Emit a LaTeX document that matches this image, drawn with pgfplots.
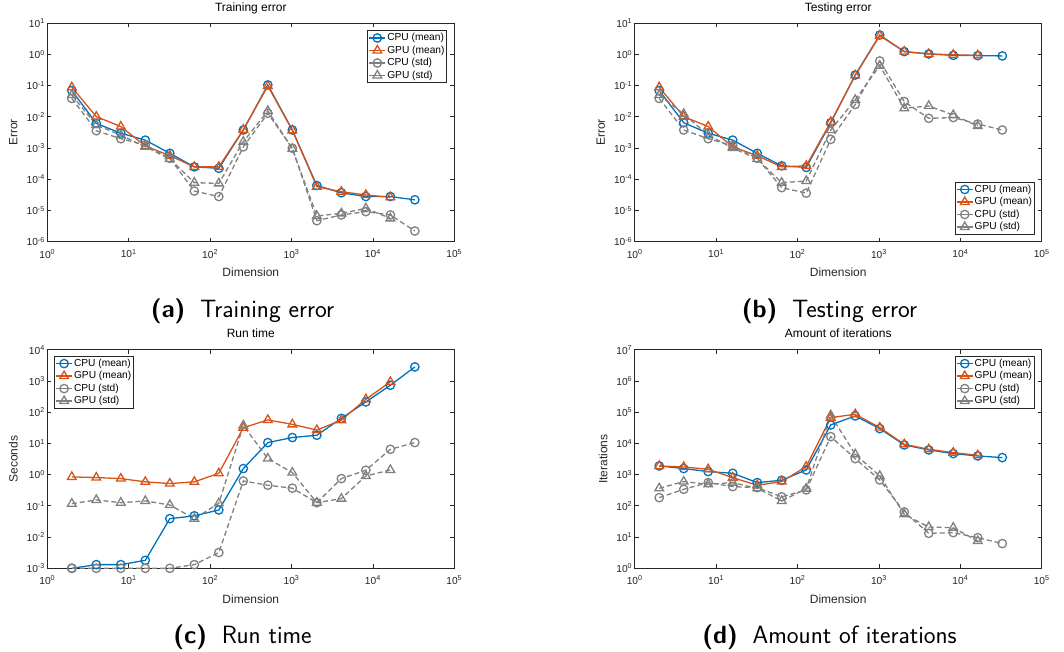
\documentclass[border=0pt]{standalone}
\usepackage{fontspec}
\setmainfont{Liberation Sans}
\usepackage{pgfplots}
\usepackage{pgfplotstable}
\pgfplotsset{compat=1.18}
\definecolor{mblue}{rgb}{0,0.447,0.741}
\definecolor{morange}{rgb}{0.85,0.325,0.098}
\definecolor{mgray}{rgb}{0.5,0.5,0.5}
\definecolor{maxis}{rgb}{0.15,0.15,0.15}

\pgfplotstableread{
x cm gm cs gs
2 0.07 0.089 0.039 0.05
4 0.0062 0.0102 0.0036 0.0055
8 0.003 0.0049 0.002 0.0026
16 0.0018 0.00117 0.00126 0.0011
32 6.8e-4 5.7e-4 4.7e-4 4.5e-4
64 2.5e-4 2.5e-4 4.2e-5 7.8e-5
128 2.25e-4 2.5e-4 2.8e-5 7.4e-5
256 3.8e-3 3.9e-3 1.1e-3 1.6e-3
512 0.106 0.098 0.013 0.0155
1024 3.8e-3 3.7e-3 9.9e-4 9.5e-4
2048 6.3e-5 5.8e-5 4.7e-6 6.7e-6
4096 3.7e-5 4e-5 7.2e-6 8.1e-6
8192 2.8e-5 3.15e-5 9.2e-6 1.17e-5
16384 2.8e-5 2.65e-5 7.2e-6 5.6e-6
32768 2.2e-5 nan 2.2e-6 nan
}\tA
\pgfplotstableread{
x cm gm cs gs
2 0.07 0.089 0.039 0.05
4 0.0065 0.0102 0.0038 0.0124
8 0.003 0.0049 0.002 0.0026
16 0.0018 0.0011 0.0012 0.001
32 6.8e-4 5.7e-4 4.7e-4 4.5e-4
64 2.7e-4 2.5e-4 5.4e-5 7.8e-5
128 2.4e-4 2.7e-4 3.6e-5 8.8e-5
256 6.5e-3 6.9e-3 1.9e-3 3.8e-3
512 0.22 0.215 0.025 0.035
1024 4.2 4.0 0.62 0.44
2048 1.24 1.24 0.031 0.0189
4096 1.04 1.04 0.009 0.0224
8192 0.94 0.98 0.0095 0.0115
16384 0.92 0.94 0.0059 0.0051
32768 0.9 nan 0.0038 nan
}\tB
\pgfplotstableread{
x cm gm cs gs
2 0.001 0.85 0.001 0.118
4 1.31e-3 0.81 0.001 0.155
8 1.31e-3 0.75 0.001 0.127
16 1.8e-3 0.59 0.001 0.144
32 0.039 0.52 0.001 0.107
64 0.048 0.59 1.31e-3 0.039
128 0.074 1.11 3.2e-3 0.121
256 1.57 32 0.63 38
512 10.7 57 0.46 3.3
1024 15.5 41 0.37 1.17
2048 18.4 27 0.127 0.127
4096 64 56 0.75 0.171
8192 215 262 1.39 0.91
16384 736 942 6.5 1.42
32768 2850 nan 10.7 nan
}\tC
\pgfplotstableread{
x cm gm cs gs
2 1910 1910 184 367
4 1570 1770 341 601
8 1260 1490 558 493
16 1110 807 415 558
32 558 458 386 367
64 663 601 195 144
128 1420 1820 325 358
256 39400 67600 16600 80400
512 76500 86500 3280 4520
1024 30000 32400 679 912
2048 9000 9450 64 53.8
4096 6220 6530 13.2 21
8192 4750 5100 13.9 20
16384 3990 4200 9.6 7.5
32768 3530 nan 6.2 nan
}\tD

\pgfplotsset{
  myax/.style={
    width=407pt, height=218.4pt, scale only axis,
    log basis x=10, log basis y=10,
    xmin=1, xmax=1e5,
    xtickten={0,...,5},
    tick align=inside,
    major tick length=4pt, minor tick length=2.6pt,
    axis line style={line width=1pt, draw=maxis},
    every tick/.append style={line width=0.8pt, draw=maxis},
    xticklabel={\pgfmathparse{int(round(\tick))}10\textsuperscript{\pgfmathresult}},
    yticklabel={\pgfmathparse{int(round(\tick))}10\textsuperscript{\pgfmathresult}},
    xticklabel style={anchor=north, inner sep=0pt, yshift=-7.5pt},
    yticklabel style={anchor=east, inner sep=0pt, xshift=-2.3pt},
    tick label style={font=\fontsize{10.2}{12}\selectfont, text=maxis},
    xlabel=Dimension,
    xlabel style={at={(axis description cs:0.5,0)}, anchor=base, yshift=-35pt, inner sep=0pt, font=\fontsize{12}{14}\selectfont, text=maxis},
    title style={at={(axis description cs:0.5,1)}, anchor=base, yshift=6pt, inner sep=0pt, font=\fontsize{12}{14}\selectfont},
    legend style={draw=maxis, line width=0.9pt, fill=white, inner sep=1pt,
      font=\fontsize{10.2}{12}\selectfont,
      nodes={inner sep=1.3pt, text height=7.5pt, text depth=2.4pt},
      cells={anchor=west}, row sep=0pt},
    legend image code/.code={\draw[mark repeat=2,mark phase=2,solid] plot coordinates {(0pt,0pt) (8pt,0pt) (16pt,0pt)};},
  },
  myylab/.style={ylabel={#1}, ylabel style={at={(axis description cs:-0.0835,0.5)}, anchor=center, inner sep=0pt, font=\fontsize{12}{14}\selectfont, text=maxis}},
  pCM/.style={color=mblue, line width=1.3pt, mark=o, mark size=4.2pt, mark options={solid}},
  pGM/.style={color=morange, line width=1.3pt, mark=triangle, mark size=5pt, mark options={solid}},
  pCS/.style={color=mgray, line width=1.3pt, dash pattern=on 5pt off 3pt, mark=o, mark size=4.2pt, mark options={solid}},
  pGS/.style={color=mgray, line width=1.3pt, dash pattern=on 5pt off 3pt, mark=triangle, mark size=5pt, mark options={solid}},
}

\begin{document}
\begin{tikzpicture}
\useasboundingbox (0,0) rectangle (1064pt,652pt);

% (a)
\begin{loglogaxis}[myax, at={(47.3pt,410.3pt)}, anchor=south west,
  ymin=1e-6, ymax=10, ytickten={-6,...,1}, myylab=Error, title=Training error,
  legend style={at={(axis description cs:1,1)}, anchor=north east, xshift=-7pt, yshift=-7pt}]
\addplot[pCM] table[x=x,y=cm]{\tA};
\addplot[pGM] table[x=x,y=gm]{\tA};
\addplot[pCS] table[x=x,y=cs]{\tA};
\addplot[pGS] table[x=x,y=gs]{\tA};
\legend{CPU (mean),GPU (mean),CPU (std),GPU (std)}
\end{loglogaxis}

% (b)
\begin{loglogaxis}[myax, at={(634.7pt,410.3pt)}, anchor=south west,
  ymin=1e-6, ymax=10, ytickten={-6,...,1}, myylab=Error, title=Testing error,
  legend style={at={(axis description cs:1,0)}, anchor=south east, xshift=-7pt, yshift=7pt}]
\addplot[pCM] table[x=x,y=cm]{\tB};
\addplot[pGM] table[x=x,y=gm]{\tB};
\addplot[pCS] table[x=x,y=cs]{\tB};
\addplot[pGS] table[x=x,y=gs]{\tB};
\legend{CPU (mean),GPU (mean),CPU (std),GPU (std)}
\end{loglogaxis}

% (c)
\begin{loglogaxis}[myax, at={(47.3pt,83.7pt)}, anchor=south west, clip=false,
  ymin=1e-3, ymax=1e4, ytickten={-3,...,4}, myylab=Seconds, title=Run time,
  legend style={at={(axis description cs:0,1)}, anchor=north west, xshift=6.7pt, yshift=-6pt}]
\addplot[pCM] table[x=x,y=cm]{\tC};
\addplot[pGM] table[x=x,y=gm]{\tC};
\addplot[pCS] table[x=x,y=cs]{\tC};
\addplot[pGS] table[x=x,y=gs]{\tC};
\legend{CPU (mean),GPU (mean),CPU (std),GPU (std)}
\end{loglogaxis}

% (d)
\begin{loglogaxis}[myax, at={(634.7pt,83.7pt)}, anchor=south west,
  ymin=1, ymax=1e7, ytickten={0,...,7}, myylab=Iterations, title=Amount of iterations,
  ylabel style={at={(axis description cs:-0.078,0.5)}},
  legend style={at={(axis description cs:1,1)}, anchor=north east, xshift=-7pt, yshift=-6pt}]
\addplot[pCM] table[x=x,y=cm]{\tD};
\addplot[pGM] table[x=x,y=gm]{\tD};
\addplot[pCS] table[x=x,y=cs]{\tD};
\addplot[pGS] table[x=x,y=gs]{\tD};
\legend{CPU (mean),GPU (mean),CPU (std),GPU (std)}
\end{loglogaxis}

\node[anchor=base, font=\sffamily\fontsize{25}{30}\selectfont, inner sep=0pt] at (242.5pt,334pt) {\textbf{(a)}\hspace{0.6em}Training error};
\node[anchor=base, font=\sffamily\fontsize{25}{30}\selectfont, inner sep=0pt] at (829.5pt,334pt) {\textbf{(b)}\hspace{0.6em}Testing error};
\node[anchor=base, font=\sffamily\fontsize{25}{30}\selectfont, inner sep=0pt] at (242.5pt,8pt) {\textbf{(c)}\hspace{0.6em}Run time};
\node[anchor=base, font=\sffamily\fontsize{25}{30}\selectfont, inner sep=0pt] at (829.5pt,8pt) {\textbf{(d)}\hspace{0.6em}Amount of iterations};
\end{tikzpicture}
\end{document}
